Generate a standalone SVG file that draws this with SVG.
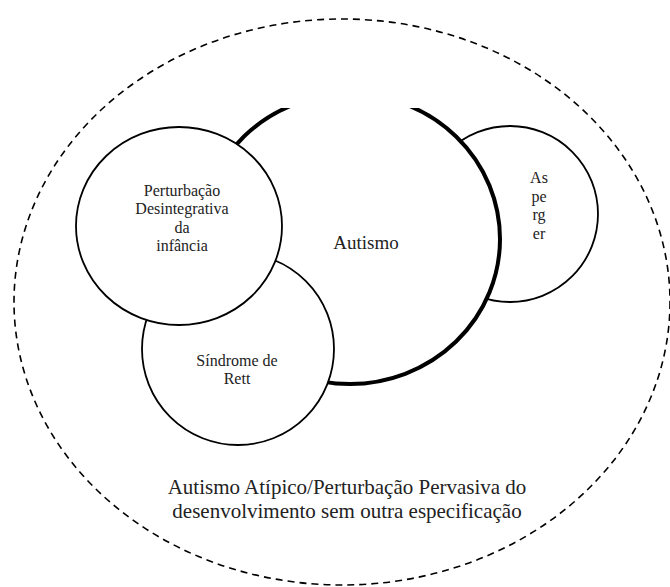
<svg xmlns="http://www.w3.org/2000/svg" width="670" height="587" viewBox="0 0 670 587">
<style>
  .c { fill: #ffffff; stroke: #000000; stroke-width: 1.8; }
  .thick { fill: #ffffff; stroke: #000000; stroke-width: 4; }
  .dash { fill: none; stroke: #000000; stroke-width: 1.6; stroke-dasharray: 7 5; }
  text { font-family: "Liberation Serif", "Times New Roman", serif; fill: #222222; text-anchor: middle; }
  .s { font-size: 16px; }
  .m { font-size: 19px; }
  .l { font-size: 21px; }
</style>
<defs>
  <clipPath id="cut"><rect x="0" y="108" width="670" height="479"/></clipPath>
</defs>
<rect width="670" height="587" fill="#ffffff"/>
<g id="outer">
  <ellipse class="dash" cx="342" cy="302" rx="328" ry="283"/>
  <text class="l" x="347" y="494">Autismo Atípico/Perturbação Pervasiva do</text>
  <text class="l" x="347" y="518">desenvolvimento sem outra especificação</text>
</g>
<g id="connectors"></g>
<g id="asperger">
  <circle class="c" cx="510" cy="214" r="88"/>
  <text class="s" x="539" y="183">As</text>
  <text class="s" x="539" y="202">pe</text>
  <text class="s" x="539" y="220">rg</text>
  <text class="s" x="539" y="239">er</text>
</g>
<g id="autismo">
  <ellipse class="thick" cx="350" cy="239" rx="150" ry="145" clip-path="url(#cut)"/>
  <text class="m" x="366" y="249">Autismo</text>
</g>
<g id="rett">
  <circle class="c" cx="238" cy="349" r="96"/>
  <text class="s" x="237" y="366">Síndrome de</text>
  <text class="s" x="237" y="384">Rett</text>
</g>
<g id="perturbacao">
  <ellipse class="c" cx="179" cy="226" rx="103" ry="99"/>
  <text class="s" x="182" y="196">Perturbação</text>
  <text class="s" x="182" y="214">Desintegrativa</text>
  <text class="s" x="182" y="233">da</text>
  <text class="s" x="182" y="251">infância</text>
</g>
</svg>
